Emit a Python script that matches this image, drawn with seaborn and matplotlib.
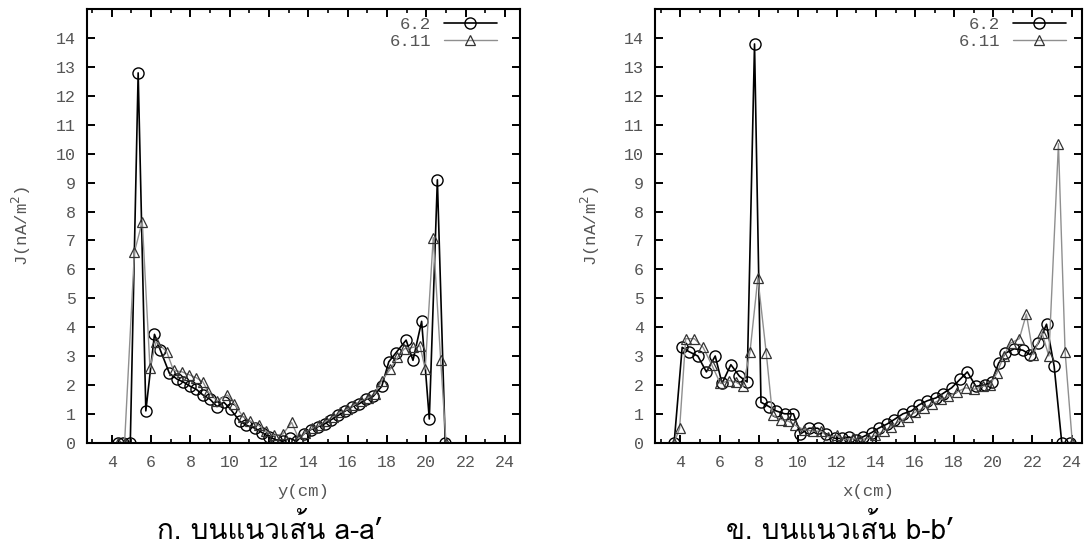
import numpy as np
import pandas as pd
import matplotlib
matplotlib.use("Agg")
import matplotlib.pyplot as plt
from matplotlib import font_manager
from matplotlib.ft2font import FT2Font
import seaborn as sns

# ---- data: current density J along line a-a' (vs y) ----
a_y_62 = [4.32, 4.58, 4.94, 5.34, 5.73, 6.17, 6.47, 6.93, 7.32, 7.64, 7.99, 8.29,
          8.64, 9.00, 9.35, 9.70, 10.05, 10.50, 10.85, 11.29, 11.64, 12.00, 12.35,
          12.70, 13.06, 13.40, 13.76, 14.11, 14.47, 14.82, 15.17, 15.53, 15.88,
          16.23, 16.59, 16.94, 17.29, 17.73, 18.09, 18.44, 18.97, 19.32, 19.76,
          20.15, 20.56, 20.96]
a_J_62 = [0.0, 0.0, 0.0, 12.8, 1.1, 3.75, 3.2, 2.4, 2.2, 2.1, 1.95, 1.85,
          1.65, 1.5, 1.25, 1.4, 1.15, 0.75, 0.6, 0.5, 0.35, 0.2, 0.1,
          0.05, 0.15, 0.05, 0.3, 0.45, 0.55, 0.65, 0.8, 0.95, 1.1,
          1.25, 1.35, 1.5, 1.6, 1.95, 2.8, 3.1, 3.55, 2.85, 4.2,
          0.82, 9.1, 0.0]

a_y_611 = [4.30, 4.65, 5.15, 5.55, 5.94, 6.26, 6.79, 7.14, 7.58, 7.94, 8.29, 8.64,
           8.91, 9.35, 9.88, 10.23, 10.67, 11.03, 11.47, 11.82, 12.26, 12.70,
           13.15, 13.50, 13.85, 14.20, 14.56, 14.90, 15.26, 15.60, 15.97, 16.32,
           16.67, 17.03, 17.38, 17.73, 18.17, 18.53, 18.88, 19.32, 19.68, 19.94,
           20.35, 20.73, 21.00]
a_J_611 = [0.0, 0.0, 6.6, 7.65, 2.6, 3.5, 3.15, 2.5, 2.45, 2.35, 2.25, 2.1,
           1.75, 1.45, 1.65, 1.35, 0.9, 0.75, 0.6, 0.4, 0.25, 0.3,
           0.7, 0.15, 0.35, 0.5, 0.6, 0.75, 0.9, 1.05, 1.15, 1.3,
           1.45, 1.55, 1.7, 2.15, 2.55, 2.95, 3.25, 3.3, 3.35, 2.55,
           7.1, 2.85, 0.0]

# ---- data: current density J along line b-b' (vs x) ----
b_x_62 = [3.68, 4.09, 4.44, 4.89, 5.33, 5.78, 6.13, 6.58, 7.02, 7.41, 7.79, 8.12,
          8.53, 8.89, 9.33, 9.78, 10.13, 10.58, 11.02, 11.47, 11.91, 12.27,
          12.62, 12.98, 13.33, 13.78, 14.13, 14.58, 14.93, 15.38, 15.82, 16.18,
          16.62, 17.07, 17.42, 17.87, 18.31, 18.67, 19.11, 19.56, 19.91, 20.27,
          20.62, 21.07, 21.51, 21.87, 22.31, 22.72, 23.11, 23.50, 23.90]
b_J_62 = [0.0, 3.3, 3.15, 3.0, 2.45, 3.0, 2.05, 2.7, 2.3, 2.1, 13.8, 1.4,
          1.25, 1.1, 1.0, 1.0, 0.3, 0.5, 0.5, 0.3, 0.15, 0.15,
          0.2, 0.1, 0.2, 0.35, 0.5, 0.65, 0.8, 1.0, 1.1, 1.3,
          1.45, 1.55, 1.7, 1.9, 2.2, 2.45, 1.95, 2.0, 2.1, 2.75,
          3.1, 3.25, 3.2, 3.05, 3.45, 4.1, 2.65, 0.0, 0.0]

b_x_611 = [3.68, 3.96, 4.27, 4.71, 5.16, 5.60, 6.04, 6.49, 6.84, 7.20, 7.56, 7.96,
           8.39, 8.71, 9.16, 9.51, 9.87, 10.31, 10.76, 11.20, 11.56, 12.00,
           12.36, 12.80, 13.16, 13.60, 13.96, 14.40, 14.76, 15.20, 15.64, 16.00,
           16.44, 16.89, 17.33, 17.69, 18.13, 18.58, 19.02, 19.47, 19.82, 20.18,
           20.53, 20.89, 21.33, 21.69, 22.04, 22.49, 22.84, 23.33, 23.67, 24.04]
b_J_611 = [0.0, 0.5, 3.6, 3.6, 3.3, 2.7, 2.05, 2.15, 2.1, 1.95, 3.15, 5.7,
           3.1, 0.95, 0.8, 0.75, 0.6, 0.45, 0.4, 0.4, 0.2, 0.25,
           0.1, 0.15, 0.1, 0.15, 0.25, 0.4, 0.55, 0.75, 0.9, 1.05,
           1.2, 1.35, 1.5, 1.6, 1.75, 1.9, 1.85, 1.95, 2.0, 2.4,
           3.0, 3.45, 3.6, 4.45, 3.05, 3.8, 3.0, 10.35, 3.15, 0.0]

series_labels = ["6.2", "6.11"]
x_ticks = [4, 6, 8, 10, 12, 14, 16, 18, 20, 22, 24]
y_ticks = list(range(0, 15))
x_labels = ["y(cm)", "x(cm)"]
y_label = "J(nA/m$^2$)"
captions = ["ก. บนแนวเส้น a-a’", "ข. บนแนวเส้น b-b’"]


def find_thai_font():
    """Return the name of an installed font that covers the Thai block."""
    for entry in font_manager.fontManager.ttflist:
        try:
            cmap = FT2Font(entry.fname).get_charmap()
        except Exception:
            continue
        if 0x0E01 in cmap and 0x0E19 in cmap:
            return entry.name
    return "DejaVu Sans"


sns.set_theme(style="ticks")
mono = "Liberation Mono"
plt.rcParams["font.family"] = [mono, "DejaVu Sans"]
plt.rcParams["axes.linewidth"] = 1.5
thai_font = find_thai_font()

label_grey = "#555555"
fig = plt.figure(figsize=(10.9, 5.47), dpi=100)
positions = [[0.0795, 0.1907, 0.3975, 0.7923],
             [0.6009, 0.1907, 0.3915, 0.7923]]
x_limits = [(2.72, 24.76), (2.70, 24.52)]
legend_anchor = [(0.947, 0.982), (0.963, 0.982)]
caption_x = [0.2477, 0.7706]

panels = [
    (a_y_62, a_J_62, a_y_611, a_J_611),
    (b_x_62, b_J_62, b_x_611, b_J_611),
]

for i, (x1, j1, x2, j2) in enumerate(panels):
    ax = fig.add_axes(positions[i])
    sns.lineplot(x=x1, y=j1, ax=ax, sort=False, estimator=None,
                 color="black", lw=1.2, marker="o", markersize=8,
                 mfc="none", mec="black", mew=1.0, label=series_labels[0])
    sns.lineplot(x=x2, y=j2, ax=ax, sort=False, estimator=None,
                 color="#8f8f8f", lw=1.0, marker="^", markersize=7.5,
                 mfc="none", mec="#333333", mew=0.9, label=series_labels[1])

    ax.set_xlim(*x_limits[i])
    ax.set_ylim(0, 15)
    ax.set_xticks(x_ticks)
    ax.set_xticks(np.arange(3, 25, 1), minor=True)
    ax.set_yticks(y_ticks)
    ax.set_yticklabels([str(v) for v in y_ticks])
    ax.tick_params(axis="both", which="major", direction="in", length=6,
                   width=1.4, top=True, right=True, labelsize=12,
                   labelcolor=label_grey, color="black")
    ax.tick_params(axis="x", which="major", pad=9)
    ax.tick_params(axis="y", which="major", pad=8)
    ax.tick_params(axis="x", which="minor", direction="in", length=3,
                   width=1.2, top=True, bottom=True, color="black")
    for sp in ax.spines.values():
        sp.set_visible(True)
        sp.set_color("black")
    ax.set_xlabel(x_labels[i], fontsize=12.5, color=label_grey, labelpad=10)
    ax.set_ylabel(y_label, fontsize=12.5, color=label_grey, labelpad=16)
    ax.set_facecolor("white")

    leg = ax.legend(loc="upper right", bbox_to_anchor=legend_anchor[i],
                    frameon=False, markerfirst=False, handlelength=3.05,
                    fontsize=12.5, borderaxespad=0.0, borderpad=0.0,
                    labelspacing=0.1, handletextpad=0.75)
    for t in leg.get_texts():
        t.set_color(label_grey)
        t.set_ha("right")

    fig.text(caption_x[i], 0.014, captions[i], ha="center", va="baseline",
             fontsize=20, color="black", family=[thai_font, "DejaVu Sans"])

fig.savefig("out.png", dpi=100, facecolor="white")
